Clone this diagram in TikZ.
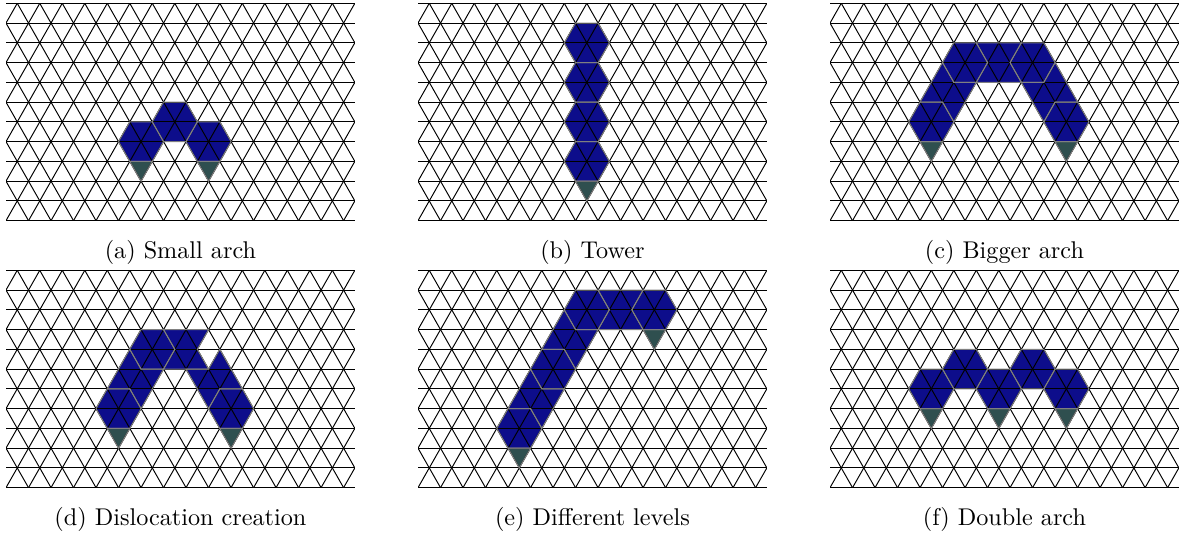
\documentclass[tikz,border=0pt]{standalone}
\usepackage{xcolor}
\usepackage{tikz}
\definecolor{hexfill}{HTML}{0D0D8B}
\definecolor{footfill}{HTML}{2F4F4F}
\definecolor{hexline}{HTML}{808080}

% one particle (hexagon round a lattice point), its foot, and a link piece
\newcommand{\hexcell}[2]{\path[hexpart] ({#1-1},#2) -- ({#1-0.5},{#2+1}) -- ({#1+0.5},{#2+1}) -- ({#1+1},#2) -- ({#1+0.5},{#2-1}) -- ({#1-0.5},{#2-1}) -- cycle;}
\newcommand{\footcell}[2]{\path[footpart] ({#1-0.5},{#2-1}) -- ({#1+0.5},{#2-1}) -- (#1,{#2-2}) -- cycle;}
\newcommand{\linkcell}[1]{\path[hexpart] #1 -- cycle;}

% triangular lattice with the cells: fill, grid, outlines
\newcommand{\lattice}[2]{%
  \begin{scope}[shift={#1}]
    \begin{scope}[hexpart/.style={fill=hexfill}, footpart/.style={fill=footfill}]
      #2
    \end{scope}
    \begin{scope}
      \clip (0,-0.05) rectangle (15.5,11.05);
      \foreach \j in {0,...,11} \draw[gridline] (0,\j) -- (15.5,\j);
      \foreach \k in {-6,...,16} \draw[gridline] (\k,0) -- ++(5.5,11);
      \foreach \k in {0,...,22} \draw[gridline] (\k,0) -- ++(-5.5,11);
    \end{scope}
    \begin{scope}[hexpart/.style={draw=hexline}, footpart/.style={draw=hexline}]
      #2
    \end{scope}
  \end{scope}}

\begin{document}
\begin{tikzpicture}[
  x=9.3pt, y=8.165pt,
  gridline/.style={line width=0.4pt, black},
  hexpart/.style={}, footpart/.style={},
  caption/.style={font=\normalsize, inner sep=0pt}
]
\useasboundingbox (0,0) rectangle (487.6pt,221.07pt);

% (a) small arch
\lattice{(2.48pt,129.88pt)}{
  \hexcell{6}{4} \hexcell{7.5}{5} \hexcell{9}{4}
  \footcell{6}{4} \footcell{9}{4}}
% (b) tower
\lattice{(172.73pt,129.88pt)}{
  \hexcell{7.5}{9} \hexcell{7.5}{7} \hexcell{7.5}{5} \hexcell{7.5}{3}
  \footcell{7.5}{3}}
% (c) bigger arch
\lattice{(342.98pt,129.88pt)}{
  \hexcell{4.5}{5}
  \linkcell{(5,8) -- (5.5,7) -- (6.5,7) -- (5.5,5) -- (5,6) -- (4,6)}
  \hexcell{6}{8}
  \linkcell{(6.5,9) -- (7,8) -- (6.5,7) -- (8.5,7) -- (8,8) -- (8.5,9)}
  \hexcell{9}{8}
  \linkcell{(10,8) -- (9.5,7) -- (8.5,7) -- (9.5,5) -- (10,6) -- (11,6)}
  \hexcell{10.5}{5}
  \footcell{4.5}{5} \footcell{10.5}{5}}
% (d) dislocation creation
\lattice{(2.48pt,19.55pt)}{
  \hexcell{5}{4}
  \linkcell{(5.5,7) -- (6,6) -- (7,6) -- (6,4) -- (5.5,5) -- (4.5,5)}
  \hexcell{6.5}{7}
  \linkcell{(7,8) -- (7.5,7) -- (7,6) -- (9,6) -- (8.5,7) -- (9,8)}
  \linkcell{(9.5,7) -- (9,6) -- (8,6) -- (9,4) -- (9.5,5) -- (10.5,5)}
  \hexcell{10}{4}
  \footcell{5}{4} \footcell{10}{4}}
% (e) different levels
\lattice{(172.73pt,19.55pt)}{
  \hexcell{4.5}{3}
  \linkcell{(5,6) -- (5.5,5) -- (6.5,5) -- (5.5,3) -- (5,4) -- (4,4)}
  \hexcell{6}{6}
  \linkcell{(6.5,9) -- (7,8) -- (8,8) -- (7,6) -- (6.5,7) -- (5.5,7)}
  \hexcell{7.5}{9}
  \linkcell{(8,10) -- (8.5,9) -- (8,8) -- (10,8) -- (9.5,9) -- (10,10)}
  \hexcell{10.5}{9}
  \footcell{4.5}{3} \footcell{10.5}{9}}
% (f) double arch
\lattice{(342.98pt,19.55pt)}{
  \hexcell{4.5}{5} \hexcell{6}{6} \hexcell{7.5}{5} \hexcell{9}{6} \hexcell{10.5}{5}
  \footcell{4.5}{5} \footcell{7.5}{5} \footcell{10.5}{5}}

\node[caption] (capa) at (74.56pt,116.9pt) {(a) Small arch};
\node[caption] (capb) at (244.81pt,116.9pt) {(b) Tower};
\node[caption] (capc) at (415.06pt,116.9pt) {(c) Bigger arch};
\node[caption] (capd) at (74.56pt,6.6pt) {(d) Dislocation creation};
\node[caption] (cape) at (244.81pt,6.6pt) {(e) Different levels};
\node[caption] (capf) at (415.06pt,6.6pt) {(f) Double arch};
\end{tikzpicture}
\end{document}
